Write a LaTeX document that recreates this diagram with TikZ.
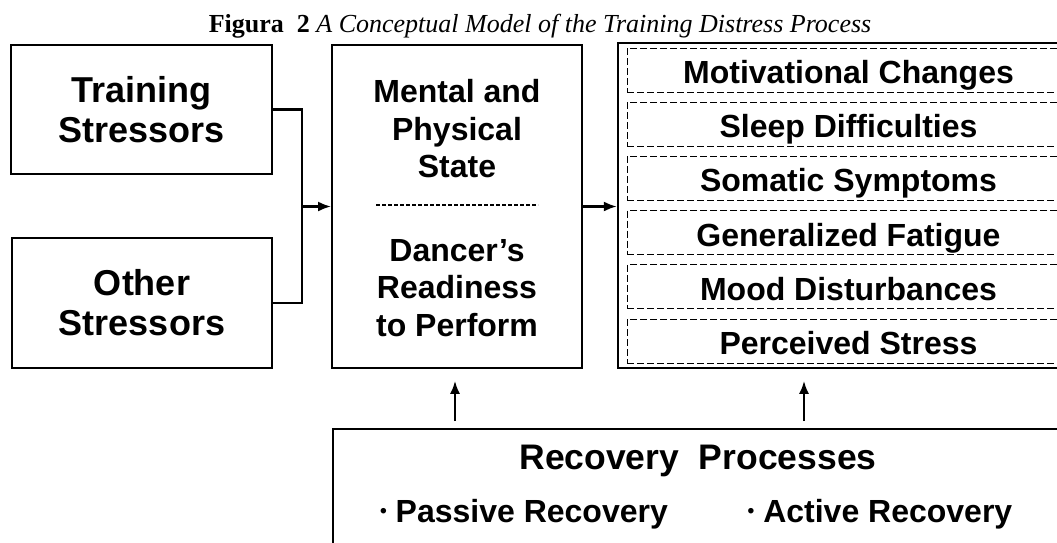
\documentclass[tikz,border=0pt]{standalone}
\usepackage{fontspec}
\setmainfont{Liberation Serif}
\newfontfamily\arial{Liberation Sans}
\usetikzlibrary{positioning, calc, arrows.meta}

\tikzset{
	stressbox/.style={draw, line width=1.8pt, align=center, inner sep=0pt,
		font=\arial\bfseries\fontsize{36}{40}\selectfont},
	statetext/.style={align=center, inner sep=0pt,
		font=\arial\bfseries\fontsize{32}{37.5}\selectfont},
	symptom/.style={draw, dash pattern=on 7pt off 3pt, line width=1pt, inner sep=0pt,
		minimum width=443, minimum height=44, text height=27pt, text depth=0pt,
		font=\arial\bfseries\fontsize{32}{37}\selectfont},
	link/.style={line width=2.4pt},
	tip/.style={-{Latex[length=13pt, width=10pt]}},
}
\newcommand{\dotitem}{\raisebox{0.3ex}{\scalebox{0.6}{\textbullet}}}

\begin{document}
\begin{tikzpicture}[x=1pt, y=-1pt]
	\useasboundingbox (0,0) rectangle (1057,542);
	\clip (0,0) rectangle (1057,542);

	% title
	\node[anchor=base] (title) at (540,32) {\fontsize{26}{28}\selectfont\textbf{Figura\ \ 2} \textit{A Conceptual Model of the Training Distress Process}};

	% stressors
	\node[stressbox, minimum width=261, minimum height=129] (train) at (141.5,109.5) {Training\\Stressors};
	\node[stressbox, minimum width=260, minimum height=130] (other) at (142,303) {Other\\Stressors};

	% mental and physical state
	\node[draw, line width=1.8pt, minimum width=250, minimum height=323, inner sep=0pt] (state) at (457,206.5) {};
	\node[statetext] (mental) at (457,129) {Mental and\\Physical\\State};
	\node[statetext] (ready) at (457,288) {Dancer’s\\Readiness\\to Perform};
	\coordinate (dashL) at (376,205);
	\coordinate (dashR) at (538,205);
	\draw[dash pattern=on 4pt off 2pt, line width=1.6pt] (dashL) -- (dashR);

	% symptoms
	\node[draw, line width=2.2pt, minimum width=457, minimum height=325, inner sep=0pt] (outer) at (846.5,205.5) {};
	\foreach \lbl [count=\i from 0] in {Motivational Changes, Sleep Difficulties, Somatic Symptoms,
		Generalized Fatigue, Mood Disturbances, Perceived Stress}
	\node[symptom] (sym\i) at (848.5,70+54.2*\i) {\lbl};

	% recovery
	\node[draw, line width=2pt, minimum width=742, minimum height=140, inner sep=0pt] (recov) at (704,499) {};
	\node[font=\arial\bfseries\fontsize{35.5}{38}\selectfont, inner sep=0pt] (rtitle) at (698,461) {Recovery\ \ Processes};
	\node[font=\arial\bfseries\fontsize{32}{36}\selectfont, inner sep=0pt] (passive) at (524,514) {\dotitem\ Passive Recovery};
	\node[font=\arial\bfseries\fontsize{32}{36}\selectfont, inner sep=0pt] (active) at (880,514) {\dotitem\ Active Recovery};

	% connectors
	\coordinate (join) at (302,206.5);
	\draw[link] (train.east) -| (join) |- (other.east);
	\draw[link, tip] (join) -- (state.west);
	\draw[link, tip] (state.east) -- (state.east -| outer.west);

	\coordinate (upL) at (455,421);
	\coordinate (upR) at (804,421);
	\coordinate (tipL) at ($(upL |- state.south)+(0,12)$);
	\coordinate (tipR) at ($(upR |- state.south)+(0,12)$);
	\draw[line width=2pt, tip] (upL) -- (tipL);
	\draw[line width=2pt, tip] (upR) -- (tipR);
\end{tikzpicture}
\end{document}
